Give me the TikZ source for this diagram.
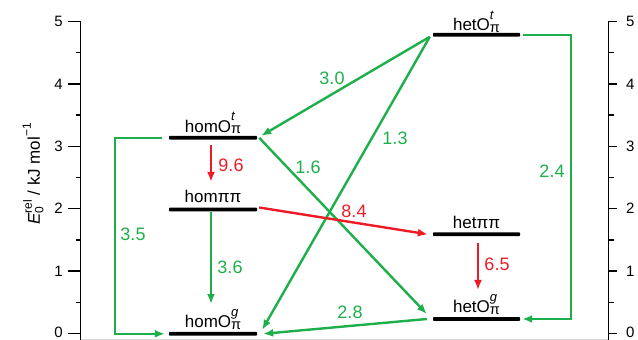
\documentclass[tikz,border=0pt]{standalone}
\usepackage{fontspec}
\setmainfont{Liberation Sans}
\usetikzlibrary{arrows.meta}
\definecolor{grn}{RGB}{30,175,75}
\definecolor{rd}{RGB}{237,28,36}
\newcommand{\lvlsup}[2]{\rlap{\raisebox{11.5pt}{\fontsize{13}{13}\selectfont\itshape #1}}\raisebox{-1.5pt}{\fontsize{14.5}{14.5}\selectfont #2}}
\begin{document}
\begin{tikzpicture}[x=1pt,y=-1pt,
  lvlbar/.style={fill=black,inner sep=0pt,minimum height=3.8pt,minimum width=88pt,rounded corners=0.8pt},
  lvltxt/.style={font=\fontsize{17}{19}\selectfont,anchor=base,inner sep=0pt},
  numtxt/.style={font=\fontsize{18}{20}\selectfont,inner sep=0pt},
  axtxt/.style={font=\fontsize{15}{17}\selectfont,inner sep=0pt},
  garr/.style={draw=grn,line width=2.4pt,-{Latex[length=10pt,width=8pt]}},
  rarr/.style={draw=rd,line width=2.4pt,-{Latex[length=10pt,width=8pt]}},
  axline/.style={line width=1.3pt},
]
\useasboundingbox (0,0) rectangle (638,340);
\draw[gray!30,line width=1pt] (81,339) -- (608,339);
% axes
\draw[axline] (80.7,21.5) -- (80.7,340);
\draw[axline] (608.3,21.5) -- (608.3,340);
\foreach \e in {0,1,2,3,4,5}{
  \pgfmathsetmacro\yy{333.5-62.4*\e}
  \pgfmathsetmacro\ly{min(\yy,332)}
  \draw[axline] (68,\yy) -- (80.7,\yy);
  \draw[axline] (608.3,\yy) -- (617,\yy);
  \node[axtxt,anchor=east] (l\e) at (63,\ly) {\e};
  \node[axtxt,anchor=west] (r\e) at (626,\ly) {\e};
}
\foreach \e in {0.5,1.5,2.5,3.5,4.5}{
  \pgfmathsetmacro\yy{333.5-62.4*\e}
  \draw[axline] (75.5,\yy) -- (80.7,\yy);
  \draw[axline] (608.3,\yy) -- (613.5,\yy);
}
\node[rotate=90,font=\fontsize{17}{19}\selectfont,inner sep=0pt] (ylab) at (33,174)
  {\textit{E}\rlap{\raisebox{-3.5pt}{\fontsize{12}{12}\selectfont 0}}\raisebox{8pt}{\fontsize{12}{12}\selectfont rel} / kJ mol\raisebox{9pt}{\fontsize{12}{12}\selectfont −1}};
% levels
\node[lvlbar] (hOt) at (213,137.8) {};
\node[lvlbar] (hpp) at (213,209.5) {};
\node[lvlbar] (hOg) at (213,333.8) {};
\node[lvlbar,minimum width=87pt] (eOt) at (476.5,34.8) {};
\node[lvlbar,minimum width=87pt] (epp) at (476.5,234.3) {};
\node[lvlbar,minimum width=87pt] (eOg) at (476.5,319) {};
\node[lvltxt] (thOt) at ([yshift=3.5pt]hOt.north) {homO\lvlsup{t}{π}};
\node[lvltxt] (thpp) at ([yshift=5pt]hpp.north) {homππ};
\node[lvltxt] (thOg) at ([yshift=4pt]hOg.north) {homO\lvlsup{g}{π}};
\node[lvltxt] (teOt) at ([yshift=2pt]eOt.north) {hetO\lvlsup{t}{π}};
\node[lvltxt] (tepp) at ([yshift=3.5pt]epp.north) {hetππ};
\node[lvltxt] (teOg) at ([yshift=4pt]eOg.north) {hetO\lvlsup{g}{π}};
% connectors
\coordinate (c24) at (571,0);
\coordinate (c35) at (115,0);
\draw[garr] ([xshift=-3pt,yshift=-2pt]eOt.west) -- ([xshift=4pt,yshift=2pt]hOt.east);
\draw[garr] ([xshift=-3pt,yshift=-2pt]eOt.west) -- ([xshift=5pt,yshift=4pt]hOg.east);
\draw[garr] ([xshift=2pt]hOt.east) -- ([xshift=-6pt,yshift=5pt]eOg.west);
\draw[garr] ([xshift=-6pt]eOg.west) -- ([xshift=6pt]hOg.east);
\draw[garr] ([xshift=-2pt]hpp.south) -- ([xshift=-2pt,yshift=27.7pt]hOg.north);
\draw[garr] ([xshift=3pt]eOt.east) -- (c24 |- eOt.east) -- (c24 |- eOg.east) -- ([xshift=2pt]eOg.east);
\draw[garr] ([xshift=-7pt]hOt.west) -- (c35 |- hOt.west) -- (c35 |- hOg.west) -- ([xshift=-4pt]hOg.west);
\draw[rarr] ([xshift=-2pt,yshift=-5.4pt]hOt.south) -- ([xshift=-2pt,yshift=8pt]thpp.north);
\draw[rarr] ([xshift=2pt,yshift=2pt]hpp.east) -- ([xshift=-5pt]epp.west);
\draw[rarr] ([xshift=1.5pt,yshift=-6.5pt]epp.south) -- ([xshift=1.5pt,yshift=27pt]eOg.north);
% numbers
\node[numtxt,text=grn] (n30) at (332,78) {3.0};
\node[numtxt,text=grn] (n13) at (395,138) {1.3};
\node[numtxt,text=grn] (n16) at (308,167) {1.6};
\node[numtxt,text=grn] (n24) at (552,171) {2.4};
\node[numtxt,text=grn] (n35) at (133,234) {3.5};
\node[numtxt,text=grn] (n36) at (230,267) {3.6};
\node[numtxt,text=grn] (n28) at (350,312) {2.8};
\node[numtxt,text=rd] (n96) at (231,165) {9.6};
\node[numtxt,text=rd] (n84) at (354,211) {8.4};
\node[numtxt,text=rd] (n65) at (497,264) {6.5};
\end{tikzpicture}
\end{document}
